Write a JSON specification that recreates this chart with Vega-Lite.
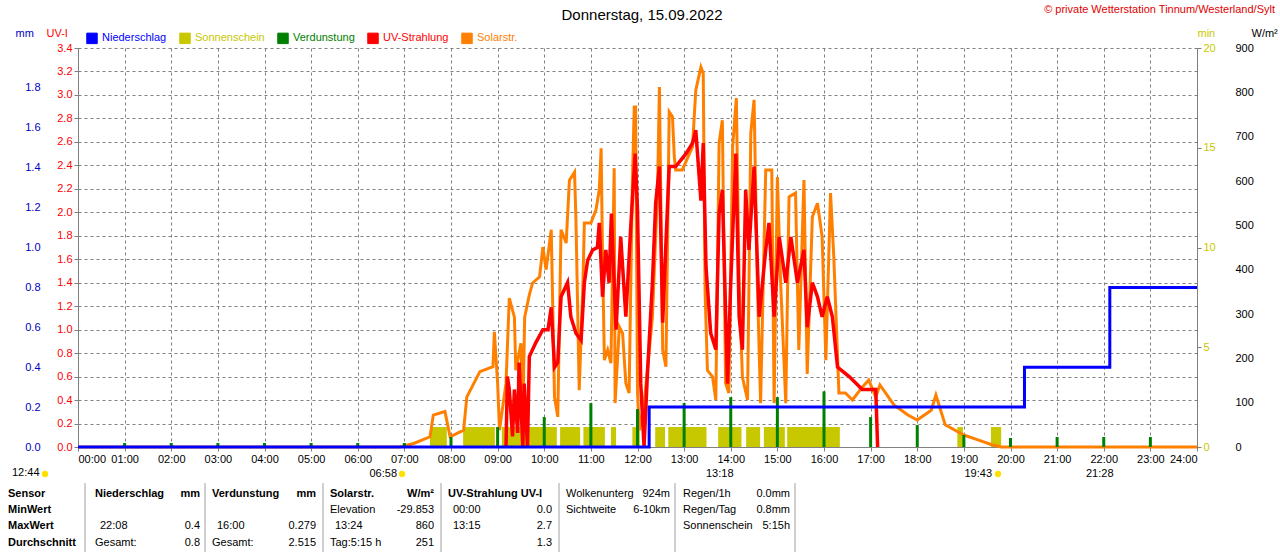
{
  "$schema": "https://vega.github.io/schema/vega-lite/v6.json",
  "autosize": {"type": "none"},
  "width": 1119,
  "height": 399,
  "padding": {"left": 78, "top": 48, "right": 83, "bottom": 105},
  "background": "white",
  "config": {
    "font": "Liberation Sans",
    "view": {"stroke": null},
    "axis": {"labelFont": "Liberation Sans", "labelFontSize": 11, "titleFont": "Liberation Sans", "titleFontSize": 11, "titleFontWeight": "normal", "domainColor": "#808080", "tickColor": "#808080", "grid": false}
  },
  "datasets": {
    "solar": [
      {"h": 0, "v": 0}, {"h": 6.9, "v": 0}, {"h": 7.2, "v": 8}, {"h": 7.55, "v": 23}, {"h": 7.62, "v": 72}, {"h": 7.87, "v": 80}, {"h": 7.98, "v": 23},
      {"h": 8.27, "v": 38}, {"h": 8.34, "v": 113}, {"h": 8.62, "v": 170}, {"h": 8.9, "v": 181}, {"h": 8.93, "v": 260}, {"h": 9.0, "v": 144}, {"h": 9.04, "v": 38},
      {"h": 9.18, "v": 144}, {"h": 9.25, "v": 336}, {"h": 9.36, "v": 293}, {"h": 9.39, "v": 173}, {"h": 9.5, "v": 234}, {"h": 9.54, "v": 68}, {"h": 9.58, "v": 293},
      {"h": 9.68, "v": 343}, {"h": 9.75, "v": 370}, {"h": 9.9, "v": 384}, {"h": 9.97, "v": 451}, {"h": 10.04, "v": 400}, {"h": 10.15, "v": 490}, {"h": 10.22, "v": 113},
      {"h": 10.29, "v": 68}, {"h": 10.36, "v": 490}, {"h": 10.47, "v": 460}, {"h": 10.54, "v": 602}, {"h": 10.65, "v": 620}, {"h": 10.68, "v": 512}, {"h": 10.75, "v": 128},
      {"h": 10.83, "v": 370}, {"h": 10.86, "v": 505}, {"h": 11.0, "v": 505}, {"h": 11.11, "v": 535}, {"h": 11.18, "v": 580}, {"h": 11.22, "v": 674}, {"h": 11.25, "v": 429},
      {"h": 11.29, "v": 196}, {"h": 11.36, "v": 219}, {"h": 11.43, "v": 189}, {"h": 11.5, "v": 629}, {"h": 11.52, "v": 99}, {"h": 11.61, "v": 271}, {"h": 11.68, "v": 257},
      {"h": 11.75, "v": 144}, {"h": 11.82, "v": 122}, {"h": 11.89, "v": 595}, {"h": 11.93, "v": 767}, {"h": 11.96, "v": 767}, {"h": 12.0, "v": 122}, {"h": 12.04, "v": 38},
      {"h": 12.15, "v": 106}, {"h": 12.32, "v": 293}, {"h": 12.43, "v": 580}, {"h": 12.47, "v": 812}, {"h": 12.54, "v": 219}, {"h": 12.61, "v": 181}, {"h": 12.68, "v": 756},
      {"h": 12.75, "v": 745}, {"h": 12.79, "v": 654}, {"h": 12.82, "v": 625}, {"h": 12.96, "v": 625}, {"h": 13.18, "v": 677}, {"h": 13.25, "v": 805}, {"h": 13.36, "v": 857},
      {"h": 13.41, "v": 843}, {"h": 13.45, "v": 347}, {"h": 13.5, "v": 173}, {"h": 13.61, "v": 158}, {"h": 13.68, "v": 106}, {"h": 13.75, "v": 686}, {"h": 13.82, "v": 737},
      {"h": 13.89, "v": 144}, {"h": 13.96, "v": 122}, {"h": 14.04, "v": 677}, {"h": 14.12, "v": 787}, {"h": 14.18, "v": 370}, {"h": 14.25, "v": 158}, {"h": 14.36, "v": 106},
      {"h": 14.43, "v": 708}, {"h": 14.5, "v": 783}, {"h": 14.57, "v": 370}, {"h": 14.64, "v": 99}, {"h": 14.75, "v": 625}, {"h": 14.88, "v": 625}, {"h": 14.93, "v": 99},
      {"h": 15.0, "v": 609}, {"h": 15.07, "v": 370}, {"h": 15.18, "v": 99}, {"h": 15.25, "v": 564}, {"h": 15.39, "v": 573}, {"h": 15.46, "v": 219}, {"h": 15.57, "v": 602},
      {"h": 15.64, "v": 165}, {"h": 15.75, "v": 519}, {"h": 15.86, "v": 550}, {"h": 15.96, "v": 474}, {"h": 16.04, "v": 196}, {"h": 16.14, "v": 573}, {"h": 16.21, "v": 429},
      {"h": 16.32, "v": 122}, {"h": 16.46, "v": 122}, {"h": 16.61, "v": 106}, {"h": 16.82, "v": 135}, {"h": 16.96, "v": 151}, {"h": 17.11, "v": 113}, {"h": 17.2, "v": 140},
      {"h": 17.5, "v": 95}, {"h": 17.8, "v": 72}, {"h": 18.0, "v": 61}, {"h": 18.3, "v": 83}, {"h": 18.4, "v": 117}, {"h": 18.6, "v": 50}, {"h": 19.0, "v": 27},
      {"h": 19.3, "v": 16}, {"h": 19.6, "v": 5}, {"h": 19.8, "v": 0}, {"h": 24, "v": 0}
    ],
    "uv": [
      {"h": 9.18, "v": 0}, {"h": 9.21, "v": 0.6}, {"h": 9.25, "v": 0.49}, {"h": 9.32, "v": 0.09}, {"h": 9.36, "v": 0.49}, {"h": 9.43, "v": 0.12}, {"h": 9.46, "v": 0.72},
      {"h": 9.54, "v": 0}, {"h": 9.57, "v": 0.54}, {"h": 9.64, "v": 0}, {"h": 9.68, "v": 0.77}, {"h": 9.82, "v": 0.89}, {"h": 9.97, "v": 1.0}, {"h": 10.08, "v": 1.0},
      {"h": 10.15, "v": 1.19}, {"h": 10.22, "v": 0.68}, {"h": 10.29, "v": 0.72}, {"h": 10.36, "v": 1.28}, {"h": 10.5, "v": 1.4}, {"h": 10.57, "v": 1.11}, {"h": 10.68, "v": 0.97},
      {"h": 10.79, "v": 0.91}, {"h": 10.86, "v": 1.4}, {"h": 10.93, "v": 1.59}, {"h": 11.04, "v": 1.68}, {"h": 11.14, "v": 1.7}, {"h": 11.18, "v": 1.91}, {"h": 11.25, "v": 1.28},
      {"h": 11.32, "v": 1.68}, {"h": 11.39, "v": 1.4}, {"h": 11.44, "v": 1.99}, {"h": 11.54, "v": 1.0}, {"h": 11.64, "v": 1.79}, {"h": 11.75, "v": 1.11}, {"h": 11.86, "v": 1.91},
      {"h": 11.95, "v": 2.5}, {"h": 12.0, "v": 2.02}, {"h": 12.07, "v": 0.54}, {"h": 12.14, "v": 0}, {"h": 12.21, "v": 0.6}, {"h": 12.32, "v": 1.4}, {"h": 12.39, "v": 2.08},
      {"h": 12.47, "v": 2.39}, {"h": 12.54, "v": 1.06}, {"h": 12.61, "v": 1.74}, {"h": 12.68, "v": 2.39}, {"h": 12.82, "v": 2.39}, {"h": 13.04, "v": 2.5}, {"h": 13.18, "v": 2.59},
      {"h": 13.25, "v": 2.7}, {"h": 13.36, "v": 2.1}, {"h": 13.41, "v": 2.59}, {"h": 13.47, "v": 1.53}, {"h": 13.57, "v": 0.97}, {"h": 13.68, "v": 0.83}, {"h": 13.75, "v": 1.99},
      {"h": 13.82, "v": 2.19}, {"h": 13.93, "v": 0.54}, {"h": 14.0, "v": 1.4}, {"h": 14.11, "v": 2.5}, {"h": 14.18, "v": 1.11}, {"h": 14.25, "v": 0.83}, {"h": 14.32, "v": 2.19},
      {"h": 14.39, "v": 1.68}, {"h": 14.5, "v": 2.39}, {"h": 14.61, "v": 1.11}, {"h": 14.75, "v": 1.68}, {"h": 14.82, "v": 1.91}, {"h": 14.93, "v": 1.11}, {"h": 15.04, "v": 1.79},
      {"h": 15.18, "v": 1.4}, {"h": 15.29, "v": 1.79}, {"h": 15.43, "v": 1.4}, {"h": 15.57, "v": 1.68}, {"h": 15.64, "v": 1.02}, {"h": 15.75, "v": 1.4}, {"h": 15.86, "v": 1.28},
      {"h": 15.96, "v": 1.11}, {"h": 16.07, "v": 1.28}, {"h": 16.18, "v": 1.11}, {"h": 16.29, "v": 0.68}, {"h": 16.54, "v": 0.6}, {"h": 16.82, "v": 0.49}, {"h": 17.11, "v": 0.49},
      {"h": 17.15, "v": 0}
    ],
    "rain": [
      {"h": 0, "v": 0}, {"h": 12.25, "v": 0.2}, {"h": 20.3, "v": 0.4}, {"h": 22.13, "v": 0.8}, {"h": 24, "v": 0.8}
    ],
    "sun": [
      {"a": 7.55, "b": 7.91}, {"a": 8.26, "b": 8.94}, {"a": 9.09, "b": 10.27}, {"a": 10.34, "b": 10.77}, {"a": 10.84, "b": 11.3},
      {"a": 11.43, "b": 11.54}, {"a": 11.89, "b": 12.05}, {"a": 12.38, "b": 12.59}, {"a": 12.66, "b": 13.48}, {"a": 13.73, "b": 14.23},
      {"a": 14.33, "b": 14.63}, {"a": 14.71, "b": 15.16}, {"a": 15.21, "b": 16.34}, {"a": 18.86, "b": 18.98}, {"a": 19.58, "b": 19.8}
    ],
    "evap": [
      {"h": 1, "v": 0.02}, {"h": 2, "v": 0.02}, {"h": 3, "v": 0.02}, {"h": 4, "v": 0.02}, {"h": 5, "v": 0.02}, {"h": 6, "v": 0.02}, {"h": 7, "v": 0.02},
      {"h": 8, "v": 0.05}, {"h": 9, "v": 0.1}, {"h": 10, "v": 0.15}, {"h": 11, "v": 0.22}, {"h": 12, "v": 0.19}, {"h": 13, "v": 0.22}, {"h": 14, "v": 0.25},
      {"h": 15, "v": 0.25}, {"h": 16, "v": 0.279}, {"h": 17, "v": 0.15}, {"h": 18, "v": 0.11}, {"h": 19, "v": 0.06}, {"h": 20, "v": 0.045}, {"h": 21, "v": 0.05},
      {"h": 22, "v": 0.05}, {"h": 23, "v": 0.05}
    ],
    "table": [
      {"t": "Donnerstag, 15.09.2022", "tx": 642, "ty": 15, "al": "center", "b": "normal", "c": "#000", "fs": 15},
      {"t": "© private Wetterstation Tinnum/Westerland/Sylt", "tx": 1275, "ty": 10, "al": "right", "b": "normal", "c": "#e00000", "fs": 11},
      {"t": "12:44", "tx": 12, "ty": 473, "al": "left", "b": "normal", "c": "#000", "fs": 11},
      {"t": "06:58", "tx": 397, "ty": 474, "al": "right", "b": "normal", "c": "#000", "fs": 11},
      {"t": "13:18", "tx": 706, "ty": 474, "al": "left", "b": "normal", "c": "#000", "fs": 11},
      {"t": "19:43", "tx": 992, "ty": 474, "al": "right", "b": "normal", "c": "#000", "fs": 11},
      {"t": "21:28", "tx": 1086, "ty": 474, "al": "left", "b": "normal", "c": "#000", "fs": 11},
      {"t": "Sensor", "tx": 8, "ty": 494, "al": "left", "b": "bold", "c": "#000", "fs": 11},
      {"t": "Niederschlag", "tx": 95, "ty": 494, "al": "left", "b": "bold", "c": "#000", "fs": 11},
      {"t": "mm", "tx": 200, "ty": 494, "al": "right", "b": "bold", "c": "#000", "fs": 11},
      {"t": "Verdunstung", "tx": 212, "ty": 494, "al": "left", "b": "bold", "c": "#000", "fs": 11},
      {"t": "mm", "tx": 316, "ty": 494, "al": "right", "b": "bold", "c": "#000", "fs": 11},
      {"t": "Solarstr.", "tx": 330, "ty": 494, "al": "left", "b": "bold", "c": "#000", "fs": 11},
      {"t": "W/m²", "tx": 434, "ty": 494, "al": "right", "b": "bold", "c": "#000", "fs": 11},
      {"t": "UV-Strahlung UV-I", "tx": 448, "ty": 494, "al": "left", "b": "bold", "c": "#000", "fs": 11},
      {"t": "Wolkenunterg", "tx": 566, "ty": 494, "al": "left", "b": "normal", "c": "#000", "fs": 11},
      {"t": "924m", "tx": 670, "ty": 494, "al": "right", "b": "normal", "c": "#000", "fs": 11},
      {"t": "Regen/1h", "tx": 683, "ty": 494, "al": "left", "b": "normal", "c": "#000", "fs": 11},
      {"t": "0.0mm", "tx": 790, "ty": 494, "al": "right", "b": "normal", "c": "#000", "fs": 11},
      {"t": "MinWert", "tx": 8, "ty": 510, "al": "left", "b": "bold", "c": "#000", "fs": 11},
      {"t": "Elevation", "tx": 330, "ty": 510, "al": "left", "b": "normal", "c": "#000", "fs": 11},
      {"t": "-29.853", "tx": 434, "ty": 510, "al": "right", "b": "normal", "c": "#000", "fs": 11},
      {"t": "00:00", "tx": 453, "ty": 510, "al": "left", "b": "normal", "c": "#000", "fs": 11},
      {"t": "0.0", "tx": 552, "ty": 510, "al": "right", "b": "normal", "c": "#000", "fs": 11},
      {"t": "Sichtweite", "tx": 566, "ty": 510, "al": "left", "b": "normal", "c": "#000", "fs": 11},
      {"t": "6-10km", "tx": 670, "ty": 510, "al": "right", "b": "normal", "c": "#000", "fs": 11},
      {"t": "Regen/Tag", "tx": 683, "ty": 510, "al": "left", "b": "normal", "c": "#000", "fs": 11},
      {"t": "0.8mm", "tx": 790, "ty": 510, "al": "right", "b": "normal", "c": "#000", "fs": 11},
      {"t": "MaxWert", "tx": 8, "ty": 526, "al": "left", "b": "bold", "c": "#000", "fs": 11},
      {"t": "22:08", "tx": 100, "ty": 526, "al": "left", "b": "normal", "c": "#000", "fs": 11},
      {"t": "0.4", "tx": 200, "ty": 526, "al": "right", "b": "normal", "c": "#000", "fs": 11},
      {"t": "16:00", "tx": 217, "ty": 526, "al": "left", "b": "normal", "c": "#000", "fs": 11},
      {"t": "0.279", "tx": 316, "ty": 526, "al": "right", "b": "normal", "c": "#000", "fs": 11},
      {"t": "13:24", "tx": 335, "ty": 526, "al": "left", "b": "normal", "c": "#000", "fs": 11},
      {"t": "860", "tx": 434, "ty": 526, "al": "right", "b": "normal", "c": "#000", "fs": 11},
      {"t": "13:15", "tx": 453, "ty": 526, "al": "left", "b": "normal", "c": "#000", "fs": 11},
      {"t": "2.7", "tx": 552, "ty": 526, "al": "right", "b": "normal", "c": "#000", "fs": 11},
      {"t": "Sonnenschein", "tx": 683, "ty": 526, "al": "left", "b": "normal", "c": "#000", "fs": 11},
      {"t": "5:15h", "tx": 790, "ty": 526, "al": "right", "b": "normal", "c": "#000", "fs": 11},
      {"t": "Durchschnitt", "tx": 8, "ty": 543, "al": "left", "b": "bold", "c": "#000", "fs": 11},
      {"t": "Gesamt:", "tx": 95, "ty": 543, "al": "left", "b": "normal", "c": "#000", "fs": 11},
      {"t": "0.8", "tx": 200, "ty": 543, "al": "right", "b": "normal", "c": "#000", "fs": 11},
      {"t": "Gesamt:", "tx": 212, "ty": 543, "al": "left", "b": "normal", "c": "#000", "fs": 11},
      {"t": "2.515", "tx": 316, "ty": 543, "al": "right", "b": "normal", "c": "#000", "fs": 11},
      {"t": "Tag:5:15 h", "tx": 330, "ty": 543, "al": "left", "b": "normal", "c": "#000", "fs": 11},
      {"t": "251", "tx": 434, "ty": 543, "al": "right", "b": "normal", "c": "#000", "fs": 11},
      {"t": "1.3", "tx": 552, "ty": 543, "al": "right", "b": "normal", "c": "#000", "fs": 11}
    ],
    "seps": [{"sx": 85}, {"sx": 205}, {"sx": 323}, {"sx": 441}, {"sx": 559}, {"sx": 675}, {"sx": 795}],
    "icons": [{"ix": 45, "iy": 474}, {"ix": 402, "iy": 474}, {"ix": 998, "iy": 474}]
  },
  "resolve": {"scale": {"y": "independent", "x": "independent"}},
  "layer": [
    {
      "data": {"name": "sun"},
      "transform": [{"calculate": "'Sonnenschein'", "as": "s"}, {"calculate": "0", "as": "y0"}, {"calculate": "1", "as": "y1"}],
      "mark": {"type": "rect"},
      "encoding": {
        "x": {"field": "a", "type": "quantitative", "scale": {"domain": [0, 24]},
          "axis": {"values": [0,1,2,3,4,5,6,7,8,9,10,11,12,13,14,15,16,17,18,19,20,21,22,23,24], "labelExpr": "(datum.value < 10 ? '0' : '') + datum.value + ':00'", "title": null, "grid": true, "gridDash": [3, 3], "gridColor": "#808080", "tickSize": 4, "labelPadding": 2}},
        "x2": {"field": "b"},
        "y": {"field": "y0", "type": "quantitative", "scale": {"domain": [0, 20]},
          "axis": {"orient": "right", "values": [0, 5, 10, 15, 20], "labelColor": "#c8c800", "tickSize": 4, "title": "min", "titleColor": "#c8c800", "titleAngle": 0, "titleX": 0, "titleY": -10, "titleAlign": "left"}},
        "y2": {"field": "y1"},
        "color": {"field": "s", "type": "nominal",
          "scale": {"domain": ["Niederschlag", "Sonnenschein", "Verdunstung", "UV-Strahlung", "Solarstr."], "range": ["#0000ff", "#c8c800", "#008000", "#ff0000", "#ff8000"]},
          "legend": {"orient": "none", "legendX": 8, "legendY": -16, "direction": "horizontal", "title": null, "symbolType": "square", "symbolSize": 110, "symbolStrokeColor": "#000", "symbolStrokeWidth": 1, "labelFontSize": 11, "labelFont": "Liberation Sans", "columnPadding": 10, "encode": {"labels": {"update": {"fill": {"scale": "color", "field": "value"}}}}}}
      }
    },
    {
      "data": {"name": "solar"},
      "transform": [{"calculate": "'Solarstr.'", "as": "s"}],
      "mark": {"type": "line", "strokeWidth": 3},
      "encoding": {
        "x": {"field": "h", "type": "quantitative", "scale": {"domain": [0, 24]}, "axis": null},
        "y": {"field": "v", "type": "quantitative", "scale": {"domain": [0, 900]},
          "axis": {"orient": "right", "offset": 36, "values": [0,100,200,300,400,500,600,700,800,900], "ticks": false, "domain": false, "title": "W/m²", "titleAngle": 0, "titleX": 18, "titleY": -10, "titleAlign": "left"}},
        "color": {"field": "s", "type": "nominal"}
      }
    },
    {
      "data": {"name": "uv"},
      "transform": [{"calculate": "'UV-Strahlung'", "as": "s"}],
      "mark": {"type": "line", "strokeWidth": 3.5},
      "encoding": {
        "x": {"field": "h", "type": "quantitative", "scale": {"domain": [0, 24]}, "axis": null},
        "y": {"field": "v", "type": "quantitative", "scale": {"domain": [0, 3.4]},
          "axis": {"orient": "left", "values": [0,0.2,0.4,0.6,0.8,1,1.2,1.4,1.6,1.8,2,2.2,2.4,2.6,2.8,3,3.2,3.4], "format": ".1f", "labelColor": "#ff0000", "tickSize": 4, "grid": true, "gridDash": [3, 3], "gridColor": "#808080", "title": "UV-I", "titleColor": "#ff0000", "titleAngle": 0, "titleX": -32, "titleY": -10, "titleAlign": "left"}},
        "color": {"field": "s", "type": "nominal"}
      }
    },
    {
      "data": {"name": "evap"},
      "transform": [{"calculate": "'Verdunstung'", "as": "s"}, {"calculate": "0", "as": "y0"}],
      "mark": {"type": "rule", "strokeWidth": 3},
      "encoding": {
        "x": {"field": "h", "type": "quantitative", "scale": {"domain": [0, 24]}, "axis": null},
        "y": {"field": "y0", "type": "quantitative", "scale": {"domain": [0, 2]}, "axis": null},
        "y2": {"field": "v"},
        "color": {"field": "s", "type": "nominal"}
      }
    },
    {
      "data": {"name": "rain"},
      "transform": [{"calculate": "'Niederschlag'", "as": "s"}],
      "mark": {"type": "line", "strokeWidth": 3, "interpolate": "step-after"},
      "encoding": {
        "x": {"field": "h", "type": "quantitative", "scale": {"domain": [0, 24]}, "axis": null},
        "y": {"field": "v", "type": "quantitative", "scale": {"domain": [0, 2]},
          "axis": {"orient": "left", "offset": 36, "values": [0,0.2,0.4,0.6,0.8,1,1.2,1.4,1.6,1.8], "format": ".1f", "labelColor": "#0000c0", "ticks": false, "domain": false, "title": "mm", "titleColor": "#0000c0", "titleAngle": 0, "titleX": -27, "titleY": -10, "titleAlign": "left"}},
        "color": {"field": "s", "type": "nominal"}
      }
    },
    {
      "data": {"name": "seps"},
      "transform": [{"calculate": "483", "as": "y0"}, {"calculate": "552", "as": "y1"}],
      "mark": {"type": "rule", "color": "#a0a0a0"},
      "encoding": {
        "x": {"field": "sx", "type": "quantitative", "scale": {"domain": [78, 1197]}, "axis": null},
        "y": {"field": "y0", "type": "quantitative", "scale": {"domain": [48, 447], "reverse": true}, "axis": null},
        "y2": {"field": "y1"}
      }
    },
    {
      "data": {"name": "icons"},
      "mark": {"type": "circle", "color": "#ffe000", "size": 40, "opacity": 1},
      "encoding": {
        "x": {"field": "ix", "type": "quantitative", "scale": {"domain": [78, 1197]}, "axis": null},
        "y": {"field": "iy", "type": "quantitative", "scale": {"domain": [48, 447], "reverse": true}, "axis": null}
      }
    },
    {
      "data": {"name": "table"},
      "mark": {"type": "text", "font": "Liberation Sans", "baseline": "middle", "align": {"expr": "datum.al"}, "fontWeight": {"expr": "datum.b"}, "fontSize": {"expr": "datum.fs"}},
      "encoding": {
        "x": {"field": "tx", "type": "quantitative", "scale": {"domain": [78, 1197]}, "axis": null},
        "y": {"field": "ty", "type": "quantitative", "scale": {"domain": [48, 447], "reverse": true}, "axis": null},
        "text": {"field": "t"},
        "color": {"field": "c", "type": "nominal", "scale": null}
      }
    }
  ]
}
